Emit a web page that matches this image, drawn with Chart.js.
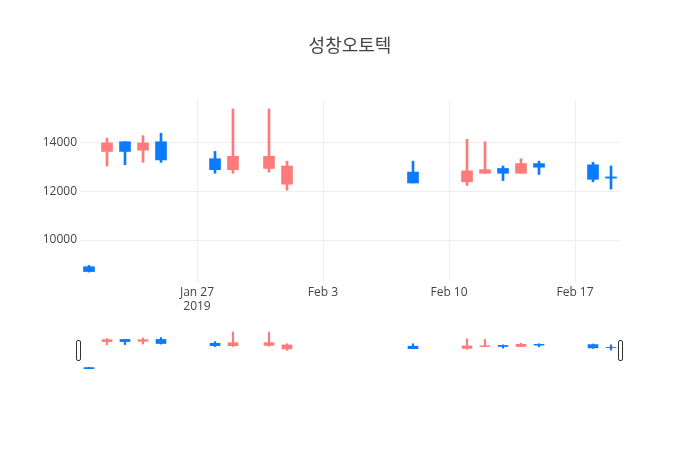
<!DOCTYPE html>
<html>
<head>
<meta charset="utf-8">
<script src="https://cdn.jsdelivr.net/npm/chart.js@4"></script>
<style>
    body { margin: 0; background: #fff; }
    .wrap { position: relative; width: 700px; height: 450px; }
    .wrap canvas { position: absolute; left: 0; top: 0; }
</style>
</head>
<body>
<div class="wrap">
    <canvas id="mainChart" width="700" height="450"></canvas>
    <canvas id="sliderChart" width="700" height="450"></canvas>
</div>
<script>
const chartTitle = '성창오토텍';
const dates = ['2019-01-21', '2019-01-22', '2019-01-23', '2019-01-24', '2019-01-25', '2019-01-28', '2019-01-29',
    '2019-01-31', '2019-02-01', '2019-02-08', '2019-02-11', '2019-02-12', '2019-02-13', '2019-02-14',
    '2019-02-15', '2019-02-18', '2019-02-19'];
const openPrices = [8900, 13650, 14050, 13700, 14050, 13350, 12900, 12950, 12300, 12800, 12400, 12750, 12950, 12750, 13150, 13100, 12600];
const closePrices = [8700, 14000, 13650, 14000, 13300, 12900, 13450, 13450, 13050, 12350, 12850, 12900, 12750, 13150, 13000, 12500, 12550];
const highPrices = [8950, 14200, 14050, 14300, 14400, 13650, 15400, 15400, 13250, 13250, 14150, 14050, 13050, 13350, 13250, 13200, 13050];
const lowPrices = [8680, 13050, 13100, 13200, 13200, 12750, 12750, 12800, 12050, 12350, 12250, 12750, 12450, 12750, 12700, 12400, 12100];
const xTickDates = ['2019-01-27', '2019-02-03', '2019-02-10', '2019-02-17'];
const xTickLabels = [['Jan 27', '2019'], 'Feb 3', 'Feb 10', 'Feb 17'];
const yTicks = [10000, 12000, 14000];
const yRange = [8270, 15770];

const UP_COLOR = '#ff7b7b';
const DOWN_COLOR = '#0a7bff';
const TEXT_COLOR = '#444';
const GRID_COLOR = '#eeeeee';

function dayNum(s) {
    const [y, m, d] = s.split('-').map(Number);
    return Date.UTC(y, m - 1, d) / 86400000;
}

const days = dates.map(dayNum);
const tickDays = xTickDates.map(dayNum);
const xMin = days[0] - 0.5;
const xMax = days[days.length - 1] + 0.5;
const colors = days.map((d, i) => closePrices[i] >= openPrices[i] ? UP_COLOR : DOWN_COLOR);

function candleDatasets(bodyWidth, wickWidth) {
    return [
        {
            label: 'wick',
            data: days.map((d, i) => ({ x: d, y: [lowPrices[i], highPrices[i]] })),
            backgroundColor: colors,
            barThickness: wickWidth,
            grouped: false,
            order: 2
        },
        {
            label: 'body',
            data: days.map((d, i) => ({ x: d, y: [openPrices[i], closePrices[i]] })),
            backgroundColor: colors,
            barThickness: bodyWidth,
            grouped: false,
            order: 1
        }
    ];
}

const tickFont = { family: '"Open Sans", sans-serif', size: 12 };

new Chart(document.getElementById('mainChart'), {
    type: 'bar',
    data: { datasets: candleDatasets(11, 2) },
    options: {
        responsive: false,
        animation: false,
        layout: { padding: { left: 0, right: 0, top: 0, bottom: 118 } },
        plugins: {
            legend: { display: false },
            tooltip: { enabled: false },
            title: {
                display: true,
                text: chartTitle,
                color: TEXT_COLOR,
                font: { family: '"Noto Sans CJK KR", "Open Sans", sans-serif', size: 18, weight: 'normal' },
                padding: { top: 34, bottom: 44.4 }
            }
        },
        scales: {
            x: {
                type: 'linear',
                min: xMin,
                max: xMax,
                offset: false,
                afterBuildTicks: scale => { scale.ticks = tickDays.map(v => ({ value: v })); },
                afterFit: scale => { scale.height = 50; },
                ticks: {
                    callback: value => xTickLabels[tickDays.indexOf(value)],
                    color: TEXT_COLOR,
                    font: tickFont,
                    padding: 3,
                    maxRotation: 0,
                    autoSkip: false
                },
                grid: { color: GRID_COLOR, drawTicks: false, offset: false },
                border: { display: false }
            },
            y: {
                min: yRange[0],
                max: yRange[1],
                afterBuildTicks: scale => { scale.ticks = yTicks.map(v => ({ value: v })); },
                afterFit: scale => { scale.width = 80; },
                ticks: {
                    callback: value => String(value),
                    color: TEXT_COLOR,
                    font: tickFont,
                    padding: 3
                },
                grid: { color: GRID_COLOR, drawTicks: false },
                border: { display: false }
            },
            // empty right margin so the title centres over the plot
            yRight: {
                position: 'right',
                afterFit: scale => { scale.width = 80; },
                ticks: { display: false },
                grid: { display: false },
                border: { display: false }
            }
        }
    }
});

// range slider handles, drawn at the edges of the slider plot
const sliderHandles = {
    id: 'sliderHandles',
    afterDraw(chart) {
        const { ctx, chartArea } = chart;
        const mid = (chartArea.top + chartArea.bottom) / 2;
        [chartArea.left - 2, chartArea.right].forEach(x => {
            ctx.save();
            ctx.beginPath();
            ctx.roundRect(x - 1.5, mid - 10, 4, 20, 1.5);
            ctx.fillStyle = '#fff';
            ctx.fill();
            ctx.lineWidth = 1;
            ctx.strokeStyle = '#333';
            ctx.stroke();
            ctx.restore();
        });
    }
};

new Chart(document.getElementById('sliderChart'), {
    type: 'bar',
    data: { datasets: candleDatasets(10, 1.5) },
    options: {
        responsive: false,
        animation: false,
        layout: { padding: { left: 80, right: 80, top: 330, bottom: 79 } },
        plugins: {
            legend: { display: false },
            tooltip: { enabled: false }
        },
        scales: {
            x: { type: 'linear', min: xMin, max: xMax, offset: false, display: false },
            y: { min: yRange[0], max: yRange[1], display: false }
        }
    },
    plugins: [sliderHandles]
});
</script>
</body>
</html>
